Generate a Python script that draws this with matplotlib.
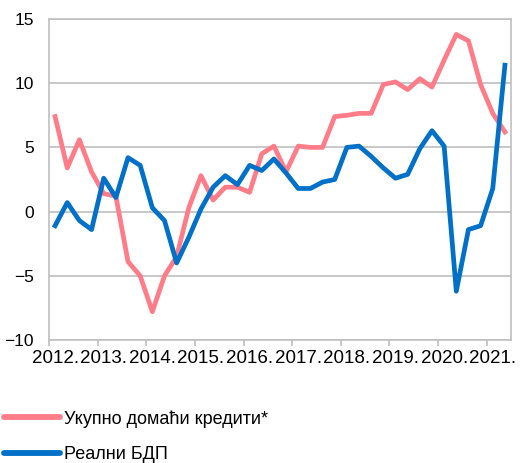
import matplotlib
matplotlib.use("Agg")
import matplotlib.pyplot as plt
import numpy as np

plt.rcParams['font.family'] = ['Liberation Sans', 'DejaVu Sans']

years = ["2012.", "2013.", "2014.", "2015.", "2016.", "2017.", "2018.", "2019.", "2020.", "2021."]
credit = [7.4, 3.4, 5.6, 3.1, 1.4, 1.2, -3.9, -5.0, -7.8, -5.0,
          -3.5, 0.3, 2.8, 0.9, 1.9, 1.9, 1.5, 4.5, 5.1, 3.1,
          5.1, 5.0, 5.0, 7.4, 7.5, 7.65, 7.65, 9.9, 10.1, 9.5,
          10.35, 9.7, 11.8, 13.8, 13.3, 9.9, 7.65, 6.2]
gdp = [-1.1, 0.7, -0.7, -1.4, 2.6, 1.1, 4.2, 3.6, 0.3, -0.7,
       -4.0, -2.0, 0.2, 1.9, 2.8, 2.1, 3.6, 3.2, 4.1, 3.0,
       1.8, 1.8, 2.3, 2.5, 5.0, 5.1, 4.3, 3.4, 2.6, 2.9,
       4.9, 6.3, 5.1, -6.2, -1.4, -1.1, 1.8, 11.4]
labels = ["Укупно домаћи кредити*", "Реални БДП"]

pink = '#FF7C88'
blue = '#0070C8'
gridc = '#BFBFBF'

fig = plt.figure(figsize=(5.2, 4.63), dpi=100)
ax = fig.add_axes([49/520, 1-340/463, 462/520, 321/463])

n = len(credit)
x = np.arange(n)
ax.plot(x, credit, color=pink, lw=3.4, label=labels[0], solid_joinstyle='round')
ax.plot(x, gdp, color=blue, lw=3.4, label=labels[1], solid_joinstyle='round')

ax.set_xlim(-0.5, n - 0.5)
ax.set_ylim(-10, 15)
ax.set_yticks([-10, -5, 0, 5, 10, 15])
ax.yaxis.grid(True, color=gridc, lw=1.2)
ax.set_axisbelow(True)
ax.tick_params(axis='y', length=0, pad=11, labelsize=12.5)

ax.set_xticks(np.arange(-0.5, n - 1, 4))
ax.set_xticklabels([])
ax.set_xticks(np.arange(0, n, 4), minor=True)
ax.set_xticklabels(years, minor=True)
ax.tick_params(axis='x', which='major', length=4, width=1.2, color=gridc)
ax.tick_params(axis='x', which='minor', length=0, pad=7, labelsize=13.5)

for s in ax.spines.values():
    s.set_color(gridc)
    s.set_linewidth(1.2)

leg = fig.legend(loc='upper left', bbox_to_anchor=(4/520, 1-410/463), frameon=False,
                 fontsize=13, handlelength=3.1, handletextpad=0.25,
                 labelspacing=1.05, borderpad=0, borderaxespad=0)
for l in leg.get_lines():
    l.set_linewidth(4.2)
    l.set_solid_capstyle('round')

fig.savefig('out.png', dpi=100)
